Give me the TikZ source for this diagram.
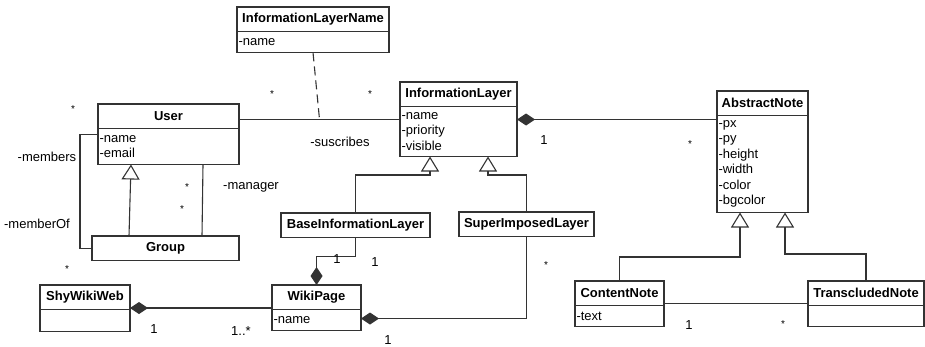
\documentclass[tikz,border=0pt]{standalone}
\usepackage{fontspec}
\setmainfont{Liberation Sans}
\usetikzlibrary{arrows.meta}

\newcommand{\umlfont}{\fontsize{13}{15.5}\selectfont}

\begin{document}
\begin{tikzpicture}[x=1pt,y=-1pt,line width=1.1pt,black!80,
    every node/.append style={text=black,font=\umlfont},
    title/.style={draw,anchor=north west,outer sep=0pt,inner sep=1pt,minimum height=24.5pt,font=\umlfont\bfseries},
    attrs/.style={draw,anchor=north west,outer sep=0pt,inner xsep=1.5pt,inner ysep=1pt,align=left},
    gen/.style={-{Triangle[open,length=15pt,width=18pt]}},
    comp/.style={{Diamond[length=18pt,width=12pt]}-},
    mult/.style={inner sep=0pt,font=\fontsize{10}{12}\selectfont}]
    \useasboundingbox (0,0) rectangle (925,346);

    % classes: name part, then attribute part hung below it
    \node[title,minimum width=152pt] (ilname) at (237,7) {InformationLayerName};
    \node[attrs,text width=149pt,minimum height=21pt] (ilname-a) at (ilname.south west) {-name};
    \node[title,minimum width=141pt] (user) at (98,104) {User};
    \node[attrs,text width=138pt,minimum height=36pt] (user-a) at (user.south west) {-name\\-email};
    \node[title,minimum width=117pt] (layer) at (400,82) {InformationLayer};
    \node[attrs,text width=114pt,minimum height=50pt] (layer-a) at (layer.south west) {-name\\-priority\\-visible};
    \node[title,minimum width=91pt] (note) at (717,91) {AbstractNote};
    \node[attrs,text width=88pt,minimum height=97pt] (note-a) at (note.south west) {-px\\-py\\-height\\-width\\-color\\-bgcolor};
    \node[title,minimum width=147pt] (group) at (92,236) {Group};
    \node[title,minimum width=149pt] (base) at (281,213) {BaseInformationLayer};
    \node[title,minimum width=135pt] (super) at (459,212) {SuperImposedLayer};
    \node[title,minimum width=90pt] (web) at (40,285) {ShyWikiWeb};
    \node[attrs,text width=87pt,minimum height=22pt] (web-a) at (web.south west) {};
    \node[title,minimum width=89pt] (page) at (272,285) {WikiPage};
    \node[attrs,text width=86pt,minimum height=21pt] (page-a) at (page.south west) {-name};
    \node[title,minimum width=89pt] (content) at (575,281) {ContentNote};
    \node[attrs,text width=86pt,minimum height=21pt] (content-a) at (content.south west) {-text};
    \node[title,minimum width=116pt] (trans) at (808,281) {TranscludedNote};
    \node[attrs,text width=113pt,minimum height=21pt] (trans-a) at (trans.south west) {};

    % user subscribes to layers, with the association class
    \draw ([yshift=-3pt]user.east) coordinate (s1) -- coordinate (assoc) (s1 -| layer-a.west);
    \draw[dash pattern=on 9pt off 5pt] (ilname-a.south) -- (assoc);
    \node[mult] (m-sub1) at (272,94) {*};
    \node[mult] (m-sub2) at (370,94) {*};
    \node (r-sub) at (340,142) {-suscribes};

    % members / memberOf
    \draw ([yshift=12pt]user-a.west) -- ++(-18,0) |- (group.west);
    \node[mult] (m-mem1) at (73,109) {*};
    \node (r-mem1) at (47,157) {-members};
    \node (r-mem2) at (37,224) {-memberOf};
    \node[mult] (m-mem2) at (67,269) {*};

    % group is a user, and has a manager
    \draw[gen] ([xshift=-36.5pt]group.north) -- ([xshift=-37.5pt]user-a.south);
    \draw ([xshift=34.5pt]user-a.south) -- ([xshift=36.5pt]group.north);
    \node[mult] (m-man1) at (187,187) {*};
    \node[mult] (m-man2) at (182,209) {*};
    \node (r-man) at (251,187) {-manager};

    % layer hierarchy
    \draw[gen] (base.north) -- ++(0,-38) -| ([xshift=-28.5pt]layer-a.south);
    \draw[gen] (super.north) -- ++(0,-37) -| ([xshift=29.5pt]layer-a.south);

    % wiki page owns its layers
    \draw[comp] (page.north) |- ([yshift=-19pt]base.south) -- (base.south);
    \node (m-base1) at (337,259) {1};
    \node (m-base2) at (375,262) {1};
    \draw[comp] ([yshift=1.5pt]page-a.east) -| (super.south);
    \node[mult] (m-sup1) at (546,265) {*};
    \node (m-sup2) at (388,340) {1};

    % web owns pages
    \draw[comp] ([yshift=1.5pt]web.south east) coordinate (w1) -- (w1 -| page.west);
    \node (m-web1) at (154,329) {1};
    \node (m-web2) at (241,331) {1..*};

    % layer owns notes
    \draw[comp] ([yshift=-13pt]layer-a.north east) coordinate (l1) -- (l1 -| note-a.west);
    \node (m-note1) at (544,140) {1};
    \node[mult] (m-note2) at (690,144) {*};

    % note kinds
    \draw[gen] (content.north) -- ++(0,-24) -| ([xshift=-22.5pt]note-a.south);
    \draw[gen] (trans.north) -- ++(0,-27) -| ([xshift=22.5pt]note-a.south);
    \draw ([yshift=2pt]content.south east) coordinate (c1) -- (c1 -| trans.west);
    \node (m-tr1) at (689,325) {1};
    \node[mult] (m-tr2) at (783,324) {*};
\end{tikzpicture}
\end{document}
